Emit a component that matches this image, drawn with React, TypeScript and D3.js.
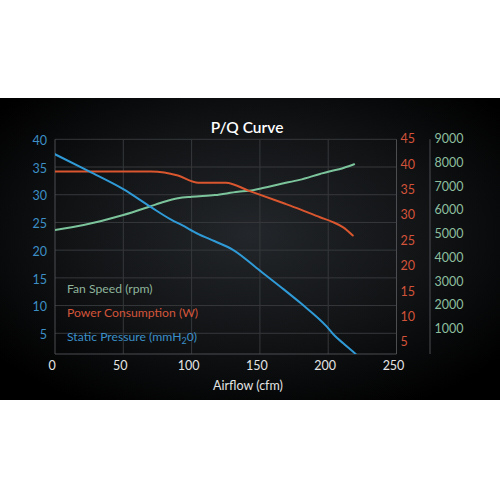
import * as d3 from 'd3';
import { useEffect, useRef } from 'react';

// static pressure (mmH2O) vs airflow
const pressureFlow = [0, 25, 50, 70, 85, 93, 105, 117, 130, 150, 165, 180, 199, 205, 211, 220];
const pressure = [37.3, 34.2, 31.0, 27.8, 25.5, 24.5, 22.9, 21.6, 20.1, 16.3, 13.4, 10.4, 6.2, 4.5, 3.2, 1.3];

// power consumption (W) vs airflow
const powerFlow = [0, 70, 80, 90, 105, 125, 142, 168, 179, 194, 203, 211, 218];
const power = [38.8, 38.8, 38.6, 38.0, 36.6, 36.6, 35.0, 32.5, 31.4, 29.8, 28.9, 27.8, 26.2];

// fan speed (rpm) vs airflow
const speedFlow = [0, 21, 50, 69, 80, 90, 100, 117, 134, 142, 153, 165, 179, 194, 200, 208, 219];
const speed = [5210, 5420, 5840, 6190, 6400, 6545, 6610, 6680, 6820, 6865, 6990, 7150, 7320, 7570, 7665, 7770, 7980];

const xTicks = [0, 50, 100, 150, 200, 250];
const pressureTicks = [5, 10, 15, 20, 25, 30, 35, 40];
const powerTicks = [5, 10, 15, 20, 25, 30, 35, 40, 45];
const speedTicks = [1000, 2000, 3000, 4000, 5000, 6000, 7000, 8000, 9000];

const BLUE = '#2f9ad6';
const RED = '#d9562f';
const GREEN = '#7cc49c';

export default function App() {
  const svgRef = useRef(null);

  useEffect(() => {
    if (!svgRef.current) return;
    d3.select(svgRef.current).selectAll('*').remove();

    const svg = d3
      .select(svgRef.current)
      .attr('width', 500)
      .attr('height', 500)
      .style('font-family', 'Lato, sans-serif');

    const defs = svg.append('defs');
    const grad = defs
      .append('radialGradient')
      .attr('id', 'bg')
      .attr('cx', '50%')
      .attr('cy', '45%')
      .attr('r', '65%');
    grad.append('stop').attr('offset', '0%').attr('stop-color', '#23262a');
    grad.append('stop').attr('offset', '55%').attr('stop-color', '#111315');
    grad.append('stop').attr('offset', '100%').attr('stop-color', '#000');

    const top = 139.3;
    const bottom = 354;
    const left = 55;
    const right = 396.5;

    defs
      .append('clipPath')
      .attr('id', 'plot')
      .append('rect')
      .attr('x', left)
      .attr('y', top - 3)
      .attr('width', right - left)
      .attr('height', bottom - top + 3);

    svg.append('rect').attr('width', 500).attr('height', 500).attr('fill', '#fff');
    svg
      .append('rect')
      .attr('x', 0)
      .attr('y', 98)
      .attr('width', 500)
      .attr('height', 302)
      .attr('fill', 'url(#bg)');

    const x = d3.scaleLinear().domain([0, 250]).range([left, right]);
    const yP = d3.scaleLinear().domain([0, 40]).range([361, top]);
    const yW = d3.scaleLinear().domain([0, 45]).range([368.7, 140]);
    const yS = d3.scaleLinear().domain([0, 9000]).range([353.75, 140]);

    // grid
    svg
      .append('g')
      .selectAll('line')
      .data(pressureTicks)
      .join('line')
      .attr('x1', left)
      .attr('x2', right)
      .attr('y1', (d) => yP(d))
      .attr('y2', (d) => yP(d))
      .attr('stroke', '#36383b')
      .attr('stroke-width', 1);
    svg
      .append('g')
      .selectAll('line')
      .data(xTicks.slice(1, -1))
      .join('line')
      .attr('x1', (d) => x(d))
      .attr('x2', (d) => x(d))
      .attr('y1', top)
      .attr('y2', bottom)
      .attr('stroke', '#36383b')
      .attr('stroke-width', 1);

    // axis lines
    const axisColor = '#4b4d50';
    svg.append('line').attr('x1', left).attr('x2', left).attr('y1', top).attr('y2', bottom).attr('stroke', axisColor);
    svg.append('line').attr('x1', left).attr('x2', right).attr('y1', bottom).attr('y2', bottom).attr('stroke', axisColor);
    svg.append('line').attr('x1', right).attr('x2', right).attr('y1', top).attr('y2', bottom).attr('stroke', axisColor);
    svg.append('line').attr('x1', 430).attr('x2', 430).attr('y1', top).attr('y2', bottom).attr('stroke', axisColor);

    // tick labels
    svg
      .append('g')
      .selectAll('text')
      .data(pressureTicks)
      .join('text')
      .attr('x', 47)
      .attr('y', (d) => yP(d) + 2.5)
      .attr('text-anchor', 'end')
      .attr('dominant-baseline', 'middle')
      .attr('font-size', 12.5)
      .attr('fill', '#3d8fc6')
      .text((d) => d);
    svg
      .append('g')
      .selectAll('text')
      .data(powerTicks)
      .join('text')
      .attr('x', 400.5)
      .attr('y', (d) => yW(d))
      .attr('dominant-baseline', 'middle')
      .attr('font-size', 12.5)
      .attr('fill', '#d3533a')
      .text((d) => d);
    svg
      .append('g')
      .selectAll('text')
      .data(speedTicks)
      .join('text')
      .attr('x', 434.5)
      .attr('y', (d) => yS(d))
      .attr('dominant-baseline', 'middle')
      .attr('font-size', 12.5)
      .attr('fill', '#8dbf9f')
      .text((d) => d);
    svg
      .append('g')
      .selectAll('text')
      .data(xTicks)
      .join('text')
      .attr('x', (d) => x(d) - 3)
      .attr('y', 367)
      .attr('text-anchor', 'middle')
      .attr('dominant-baseline', 'middle')
      .attr('font-size', 12.5)
      .attr('fill', '#e4e4e4')
      .text((d) => d);

    svg
      .append('text')
      .attr('x', 248)
      .attr('y', 390)
      .attr('text-anchor', 'middle')
      .attr('font-size', 12.5)
      .attr('fill', '#e4e4e4')
      .text('Airflow (cfm)');

    svg
      .append('text')
      .attr('x', 247)
      .attr('y', 132.5)
      .attr('text-anchor', 'middle')
      .attr('font-size', 15.5)
      .attr('font-weight', 600)
      .attr('fill', '#ffffff')
      .text('P/Q Curve');

    // curves
    const plot = svg.append('g').attr('clip-path', 'url(#plot)');
    const drawLine = (xs: number[], ys: number[], yScale: any, color: string) => {
      const pts = xs.map((v, i) => [v, ys[i]] as [number, number]);
      const line = d3
        .line<[number, number]>()
        .x((d) => x(d[0]))
        .y((d) => yScale(d[1]))
        .curve(d3.curveMonotoneX);
      plot
        .append('path')
        .attr('d', line(pts))
        .attr('fill', 'none')
        .attr('stroke', color)
        .attr('stroke-width', 2)
        .attr('stroke-linejoin', 'round')
        .attr('stroke-linecap', 'round');
    };
    drawLine(speedFlow, speed, yS, GREEN);
    drawLine(powerFlow, power, yW, RED);
    drawLine(pressureFlow, pressure, yP, BLUE);

    // legend
    const legend = svg.append('g').attr('font-size', 12.2);
    legend.append('text').attr('x', 67).attr('y', 292.5).attr('fill', '#8fb49b').text('Fan Speed (rpm)');
    legend.append('text').attr('x', 67).attr('y', 316.5).attr('fill', '#d3553b').text('Power Consumption (W)');
    const sp = legend.append('text').attr('x', 67).attr('y', 341).attr('fill', '#3b8fc8');
    sp.append('tspan').text('Static Pressure (mmH');
    sp.append('tspan').attr('font-size', 9).attr('dy', 3).text('2');
    sp.append('tspan').attr('dy', -3).text('0)');
  }, []);

  return (
    <div style={{ position: 'absolute', left: 0, top: 0 }}>
      <svg ref={svgRef} />
    </div>
  );
}
